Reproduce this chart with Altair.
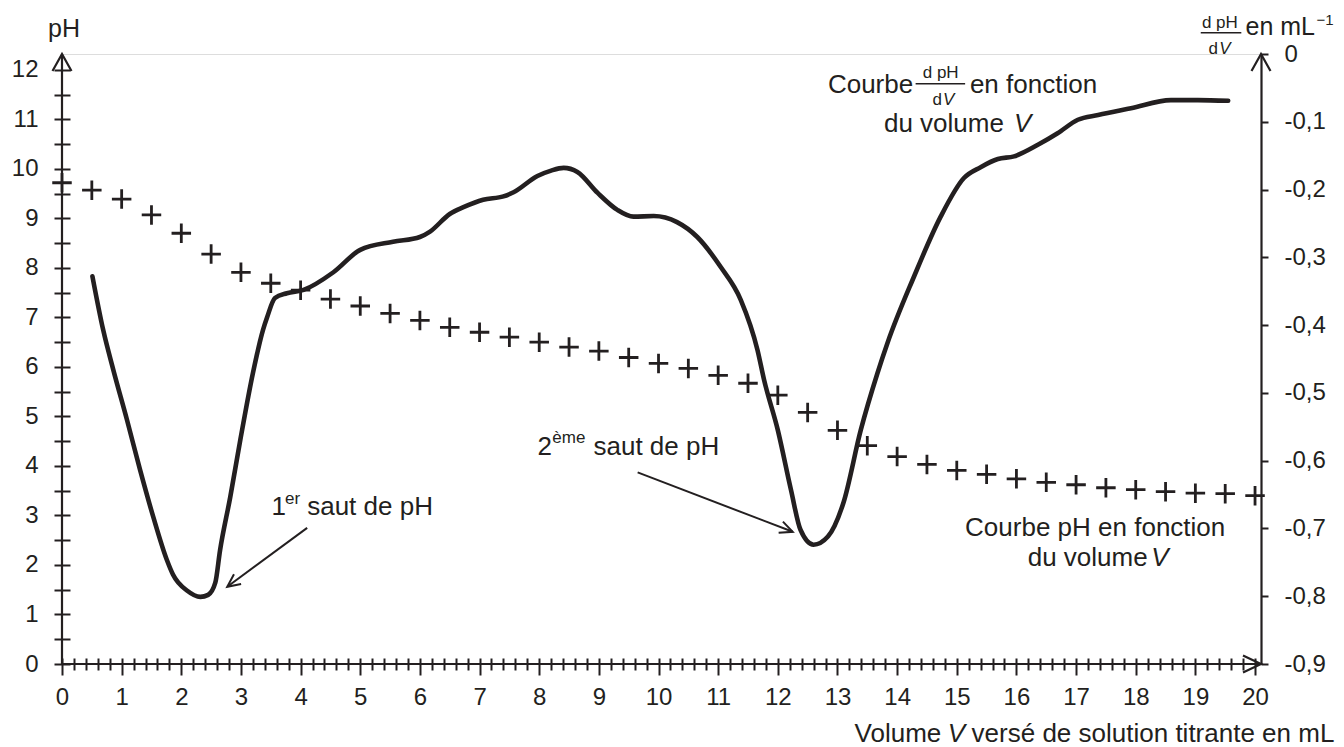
import math
import altair as alt
import pandas as pd

# ---------------- data ----------------
# pH curve (crosses), every 0.5 mL
V_PH = [0, 0.5, 1, 1.5, 2, 2.5, 3, 3.5, 4, 4.5, 5, 5.5, 6, 6.5, 7, 7.5, 8, 8.5, 9, 9.5,
        10, 10.5, 11, 11.5, 12, 12.5, 13, 13.5, 14, 14.5, 15, 15.5, 16, 16.5, 17, 17.5,
        18, 18.5, 19, 19.5, 20]
PH = [9.72, 9.57, 9.39, 9.07, 8.70, 8.28, 7.91, 7.69, 7.55, 7.37, 7.23, 7.08, 6.94, 6.80,
      6.70, 6.60, 6.50, 6.40, 6.32, 6.19, 6.07, 5.97, 5.83, 5.67, 5.43, 5.08, 4.72, 4.41,
      4.19, 4.03, 3.91, 3.83, 3.74, 3.67, 3.62, 3.56, 3.52, 3.48, 3.45, 3.44, 3.40]

# derivative curve dpH/dV (right axis)
V_D = [0.51, 0.69, 0.86, 1.09, 1.31, 1.53, 1.76, 1.86, 2.10, 2.32, 2.45, 2.57, 2.65, 2.82,
       2.99, 3.20, 3.37, 3.44, 3.57, 3.77, 4.05, 4.55, 5.0, 5.55, 6.0, 6.17, 6.5, 6.73,
       7.06, 7.40, 7.57, 7.97, 8.2, 8.41, 8.64, 8.98, 9.31, 9.58, 9.92, 10.31, 10.65,
       11.04, 11.38, 11.66, 11.77, 12.0, 12.22, 12.38, 12.6, 12.84, 13.1, 13.39, 13.67,
       13.84, 14.28, 14.73, 15.12, 15.4, 15.69, 15.96, 16.36, 16.69, 17.03, 17.37, 17.92,
       18.59, 19.04, 19.55]
DERIV = [-0.328, -0.407, -0.466, -0.540, -0.614, -0.683, -0.747, -0.768, -0.792, -0.801,
         -0.798, -0.780, -0.732, -0.654, -0.569, -0.471, -0.407, -0.388, -0.360, -0.353,
         -0.348, -0.322, -0.289, -0.277, -0.270, -0.262, -0.236, -0.226, -0.215, -0.210,
         -0.204, -0.180, -0.172, -0.168, -0.174, -0.205, -0.230, -0.240, -0.239, -0.248,
         -0.270, -0.314, -0.363, -0.437, -0.481, -0.555, -0.643, -0.702, -0.724, -0.712,
         -0.662, -0.555, -0.471, -0.426, -0.329, -0.240, -0.183, -0.167, -0.155, -0.151,
         -0.134, -0.117, -0.097, -0.090, -0.080, -0.068, -0.068, -0.069]

# axis ticks
X_TICKS = [round(i * 0.2, 1) for i in range(101)]
YL_TICKS = [i * 0.5 for i in range(25)]
YR_TICKS = [round(-0.9 + i * 0.1, 1) for i in range(10)]

# annotation texts: (text, V, pH)
TXT_MAIN = [("Courbe", 12.84, 11.54), ("en fonction", 15.22, 11.54),
            ("1", 3.51, 3.0), ("saut de pH", 4.11, 3.0),
            ("2", 7.97, 4.23), ("saut de pH", 8.91, 4.23)]
TXT_UNIT = [("en mL", 19.84, 12.71)]
TXT_PH = [("pH", -0.235, 12.67)]
TXT_MAIN_RIGHT = [("du volume", 15.79, 10.75), ("du volume", 18.20, 1.98),
                  ("Volume", 14.74, -1.58),
                  ("versé de solution titrante en mL", 21.33, -1.58)]
TXT_MAIN_CENTER = [("Courbe pH en fonction", 17.32, 2.59)]
TXT_ITALIC = [("V", 15.96, 10.75), ("V", 18.26, 1.98)]
TXT_ITALIC_RIGHT = [("V", 15.14, -1.58)]
TXT_SMALL = [("er", 3.74, 3.24), ("ème", 8.22, 4.47)]
TXT_EXP = [("\u22121", 21.03, 12.91)]
TXT_SMALL_CENTER = [("d pH", 14.73, 11.84), ("d pH", 19.41, 12.85)]
TXT_SMALL_RIGHT = [("d", 14.75, 11.30), ("d", 19.38, 12.31)]
TXT_SMALL_ITALIC = [("V", 14.77, 11.30), ("V", 19.40, 12.31)]
FRAC_BARS = [(14.31, 15.14, 11.72), (19.09, 19.77, 12.75)]
ARROWS = [(4.11, 2.75, 2.77, 1.56), (9.65, 3.87, 12.25, 2.67)]

# ---------------- layout / style ----------------
FONT = "Liberation Sans"
INK = "#231f20"
W, H = 1199, 610
XMAX = 20.1
YMAX = 12.32

xs = alt.Scale(domain=[0, XMAX], nice=False, zero=False)
yls = alt.Scale(domain=[0, YMAX], nice=False, zero=False)
yrs = alt.Scale(domain=[-0.9, 0], nice=False, zero=False)

INT_TEST = "abs(datum.value - round(datum.value)) < 0.01"

x_axis = alt.Axis(
    values=X_TICKS, orient="bottom", offset=-6, domain=False, grid=False,
    tickSize={"condition": {"test": INT_TEST, "value": 17}, "value": 12},
    tickWidth=2, tickColor=INK,
    labelExpr=INT_TEST + " ? format(round(datum.value), 'd') : ''",
    labelFont=FONT, labelFontSize=24, labelColor=INK, labelPadding=10,
    labelOverlap=False, labelFlush=False, title=None)

yl_axis = alt.Axis(
    values=YL_TICKS, orient="left", offset=-8, domain=False, grid=False,
    tickSize=16, tickWidth=2, tickColor=INK,
    labelExpr=INT_TEST + " ? format(round(datum.value), 'd') : ''",
    labelFont=FONT, labelFontSize=24, labelColor=INK, labelPadding=16,
    labelOverlap=False, labelFlush=False, title=None)

yr_axis = alt.Axis(
    values=YR_TICKS, orient="right", domain=True, domainColor=INK, domainWidth=2.2,
    grid=False, tickSize=7, tickWidth=2, tickColor=INK,
    labelExpr="datum.value == 0 ? '0' : '-0,' + round(-datum.value * 10)",
    labelFont=FONT, labelFontSize=24, labelColor=INK, labelPadding=16,
    labelOverlap=False, labelFlush=False, title=None)


def X(f):
    return alt.X(f, scale=xs, axis=x_axis)


def Y(f, axis=None):
    return alt.Y(f, scale=yls, axis=axis)


ph_df = pd.DataFrame({"V": V_PH, "pH": PH})
d_df = pd.DataFrame({"V": V_D, "d": DERIV})

crosses = alt.Chart(ph_df).mark_point(
    shape="M-1,0H1M0,-1V1", size=380, filled=False, strokeWidth=2.8,
    color=INK, opacity=1
).encode(x=X("V:Q"), y=Y("pH:Q", yl_axis))

deriv = alt.Chart(d_df).mark_line(
    color=INK, strokeWidth=4.6, interpolate="monotone",
    strokeCap="round", strokeJoin="round"
).encode(x=X("V:Q"), y=alt.Y("d:Q", scale=yrs, axis=yr_axis))

# axis lines (left and bottom) drawn through the scales
axl = alt.Chart(pd.DataFrame({"x": [0], "y0": [0], "y1": [YMAX]})).mark_rule(
    color=INK, strokeWidth=2.2).encode(x=X("x:Q"), y=Y("y0:Q"), y2="y1:Q")
axb = alt.Chart(pd.DataFrame({"x0": [0], "x1": [XMAX], "y": [0]})).mark_rule(
    color=INK, strokeWidth=2.2).encode(x=X("x0:Q"), x2="x1:Q", y=Y("y:Q"))

up_heads = alt.Chart(pd.DataFrame({"x": [0, XMAX], "y": [YMAX, YMAX]})).mark_point(
    shape="M-0.95,1.7L0,0L0.95,1.7", size=400, filled=False, strokeWidth=2.2,
    color=INK, opacity=1).encode(x=X("x:Q"), y=Y("y:Q"))
right_head = alt.Chart(pd.DataFrame({"x": [XMAX], "y": [0]})).mark_point(
    shape="M-1.8,-0.85L0,0L-1.8,0.85", size=400, filled=False, strokeWidth=2.2,
    color=INK, opacity=1).encode(x=X("x:Q"), y=Y("y:Q"))

# annotation arrows
px_x = W / XMAX
px_y = H / YMAX
arr_df = pd.DataFrame(ARROWS, columns=["x0", "y0", "x1", "y1"])
arr_df["ang"] = [
    math.degrees(math.atan2(-(r.y1 - r.y0) * px_y, (r.x1 - r.x0) * px_x)) % 360
    for r in arr_df.itertuples()
]
arr_lines = alt.Chart(arr_df).mark_rule(color=INK, strokeWidth=2).encode(
    x=X("x0:Q"), y=Y("y0:Q"), x2="x1:Q", y2="y1:Q")
arr_heads = alt.Chart(arr_df).mark_point(
    shape="M-1.6,-0.75L0,0L-1.6,0.75", size=256, filled=False, strokeWidth=2,
    color=INK, opacity=1).encode(x=X("x1:Q"), y=Y("y1:Q"),
                                 angle=alt.Angle("ang:Q", scale=None))

frac_df = pd.DataFrame(FRAC_BARS, columns=["x0", "x1", "y"])
frac = alt.Chart(frac_df).mark_rule(color=INK, strokeWidth=1.6).encode(
    x=X("x0:Q"), x2="x1:Q", y=Y("y:Q"))


def texts(rows, size, align="left", style="normal"):
    df = pd.DataFrame(rows, columns=["t", "V", "pH"])
    return alt.Chart(df).mark_text(
        font=FONT, fontSize=size, fontStyle=style, align=align,
        baseline="alphabetic", color=INK
    ).encode(x=X("V:Q"), y=Y("pH:Q"), text="t:N")


chart = alt.layer(
    crosses, deriv, axl, axb, up_heads, right_head, arr_lines, arr_heads, frac,
    texts(TXT_MAIN, 26), texts(TXT_UNIT, 25), texts(TXT_PH, 25),
    texts(TXT_MAIN_RIGHT, 26, "right"),
    texts(TXT_MAIN_CENTER, 26, "center"), texts(TXT_ITALIC, 26, "left", "italic"),
    texts(TXT_ITALIC_RIGHT, 26, "right", "italic"),
    texts(TXT_SMALL, 17), texts(TXT_EXP, 15), texts(TXT_SMALL_CENTER, 17, "center"),
    texts(TXT_SMALL_RIGHT, 17, "right"), texts(TXT_SMALL_ITALIC, 17, "left", "italic"),
).resolve_scale(y="independent").properties(
    width=W, height=H,
    autosize=alt.AutoSizeParams(type="none"),
    padding={"left": 54, "top": 46, "right": 75, "bottom": 83},
).configure_view(stroke=None).configure(background="white")

chart.save("out.html", embed_options={"renderer": "svg", "actions": False})
